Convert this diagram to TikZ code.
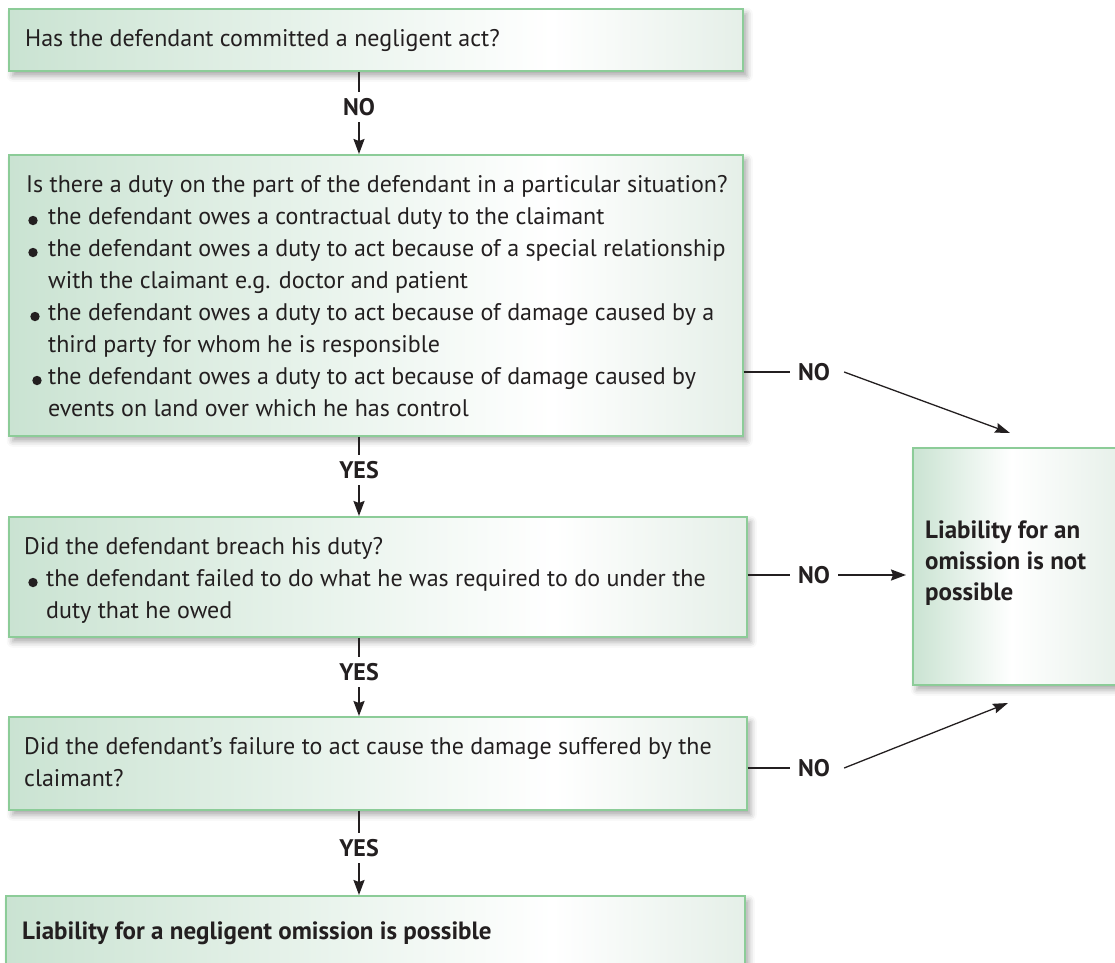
\documentclass[tikz,border=0pt]{standalone}
\usepackage{fontspec}
\setmainfont{PT Sans}
\usetikzlibrary{arrows.meta,shadows.blur}
\definecolor{gL}{RGB}{202,227,210}
\definecolor{gR}{RGB}{229,239,232}
\definecolor{gB}{RGB}{140,204,152}
\definecolor{txt}{RGB}{35,31,32}
\pgfdeclarehorizontalshading{boxshade}{100bp}{color(0bp)=(gL); color(25bp)=(gL); color(62bp)=(white); color(75bp)=(gR); color(100bp)=(gR)}
\pgfdeclarehorizontalshading{sideshade}{100bp}{color(0bp)=(gL); color(25bp)=(gL); color(48bp)=(white); color(75bp)=(gR); color(100bp)=(gR)}
\begin{document}
\begin{tikzpicture}[x=1pt,y=-1pt,
  font=\fontsize{24}{32}\selectfont,
  box/.style={draw=gB, line width=1.5pt, shading=boxshade, shading angle=0, inner sep=0pt, anchor=north west,
    blur shadow={shadow xshift=4pt, shadow yshift=-5pt, shadow blur radius=6pt, shadow opacity=35}},
  sidebox/.style={box, shading=sideshade},
  ln/.style={anchor=base west, inner sep=0pt, text=txt},
  bln/.style={ln, font=\fontsize{25}{32}\selectfont\bfseries},
  lab/.style={font=\fontsize{24}{32}\selectfont\bfseries, text=txt, inner xsep=8pt, inner ysep=7pt, text height=16pt, text depth=0pt},
  conn/.style={draw=txt, line width=2pt},
  arr/.style={conn, -{Stealth[length=15pt,width=11pt,inset=2pt]}},
  darr/.style={draw=txt, line width=1.3pt, -{Stealth[length=15pt,width=10pt,inset=2pt]}},
  bul/.style={fill=txt}
]
\useasboundingbox (0,0) rectangle (1115,962);
\clip (0,0) rectangle (1115,962);

% boxes
\node[box, minimum width=734pt, minimum height=62pt] (b1) at (8,8) {};
\node[box, minimum width=734pt, minimum height=281pt] (b2) at (8,154) {};
\node[box, minimum width=738pt, minimum height=120pt] (b3) at (8,516) {};
\node[box, minimum width=738pt, minimum height=93pt] (b4) at (8,716) {};
\node[box, minimum width=739pt, minimum height=90pt] (b5) at (5,895) {};
\node[sidebox, minimum width=215pt, minimum height=237pt] (r) at (912,447) {};

% box 1
\node[ln] (t1) at (25,46.5) {Has the defendant committed a negligent act?};

% box 2
\node[ln] (t2a) at (26,192) {Is there a duty on the part of the defendant in a particular situation?};
\fill[bul] (33,220.5) circle (4.7);
\node[ln] (t2b) at (48,224) {the defendant owes a contractual duty to the claimant};
\fill[bul] (33,252.5) circle (4.7);
\node[ln] (t2c) at (48,256) {the defendant owes a duty to act because of a special relationship};
\node[ln] (t2d) at (48,288) {with the claimant e.g. doctor and patient};
\fill[bul] (35,316.5) circle (4.7);
\node[ln] (t2e) at (48,320) {the defendant owes a duty to act because of damage caused by a};
\node[ln] (t2f) at (48,352) {third party for whom he is responsible};
\fill[bul] (37,380.5) circle (4.7);
\node[ln] (t2g) at (48,384) {the defendant owes a duty to act because of damage caused by};
\node[ln] (t2h) at (48,416) {events on land over which he has control};

% box 3
\node[ln] (t3a) at (24,554) {Did the defendant breach his duty?};
\fill[bul] (33,582.5) circle (4.7);
\node[ln] (t3b) at (46,586) {the defendant failed to do what he was required to do under the};
\node[ln] (t3c) at (46,618) {duty that he owed};

% box 4
\node[ln] (t4a) at (24,754) {Did the defendant’s failure to act cause the damage suffered by the};
\node[ln] (t4b) at (24,786) {claimant?};

% box 5
\node[bln] (t5) at (22,939) {Liability for a negligent omission is possible};

% side box
\node[bln] (tra) at (925,538) {Liability for an};
\node[bln] (trb) at (925,569) {omission is not};
\node[bln] (trc) at (925,600) {possible};

% vertical connectors
\node[lab] (l1) at (359,107) {NO};
\node[lab] (l2) at (359,470) {YES};
\node[lab] (l3) at (359,672) {YES};
\node[lab] (l4) at (359,848) {YES};
\draw[conn] (b1.south -| l1) -- (l1.north);
\draw[arr] (l1.south) -- (l1 |- b2.north);
\draw[conn] (b2.south -| l2) -- (l2.north);
\draw[arr] (l2.south) -- (l2 |- b3.north);
\draw[conn] (b3.south -| l3) -- (l3.north);
\draw[arr] (l3.south) -- (l3 |- b4.north);
\draw[conn] (b4.south -| l4) -- (l4.north);
\draw[arr] (l4.south) -- (l4 |- b5.north);

% horizontal connectors
\node[lab] (n2) at (814,372) {NO};
\node[lab] (n3) at (814,575) {NO};
\node[lab] (n4) at (814,768) {NO};
\coordinate (e2) at (1010,433);
\coordinate (e4) at (1008,703);
\draw[conn] (b2.east |- n2) -- (n2.west);
\draw[darr] ([xshift=6pt]n2.east) -- (e2);
\draw[conn] (b3.east |- n3) -- (n3.west);
\draw[arr, shorten >=6pt] (n3.east) -- (r.west |- n3);
\draw[conn] (b4.east |- n4) -- (n4.west);
\draw[darr] ([xshift=6pt]n4.east) -- (e4);
\end{tikzpicture}
\end{document}
